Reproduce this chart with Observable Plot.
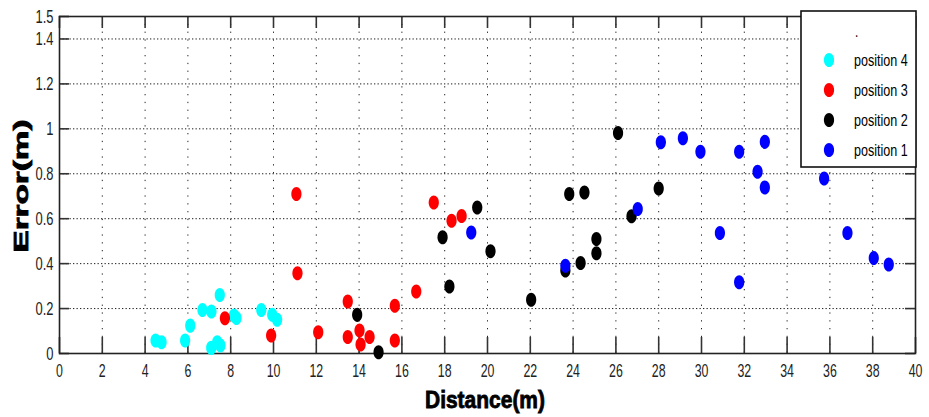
<!DOCTYPE html>
<html><head><meta charset="utf-8">
<script src="https://cdn.jsdelivr.net/npm/d3@7"></script>
<script src="https://cdn.jsdelivr.net/npm/@observablehq/plot@0.6"></script>
<style>
body{margin:0;background:#fff;}
#chart{width:929px;height:417px;}
</style></head><body><div id="chart"></div>
<script>
const series = ["position 4", "position 3", "position 2", "position 1"];
const colors = ["#00ffff", "#ff0000", "#000000", "#0000ff"];

const pos4X = [4.49, 4.77, 5.87, 6.11, 6.68, 7.10, 7.49, 7.09, 7.37, 7.52, 8.15, 8.27, 9.43, 9.94, 10.17];
const pos4Y = [0.058, 0.05, 0.058, 0.124, 0.194, 0.187, 0.26, 0.025, 0.05, 0.036, 0.169, 0.158, 0.194, 0.172, 0.15];

const pos3X = [7.73, 9.89, 11.07, 11.12, 12.09, 13.47, 13.47, 14.02, 14.07, 14.49, 15.67, 15.67, 16.67, 17.49, 18.32, 18.79];
const pos3Y = [0.157, 0.08, 0.71, 0.357, 0.095, 0.231, 0.073, 0.102, 0.04, 0.073, 0.213, 0.058, 0.276, 0.672, 0.591, 0.612];

const pos2X = [13.91, 14.91, 17.90, 18.22, 19.52, 20.14, 22.04, 23.64, 23.82, 24.35, 24.53, 25.09, 25.09, 26.10, 26.73, 28.00];
const pos2Y = [0.172, 0.006, 0.517, 0.298, 0.65, 0.455, 0.239, 0.369, 0.71, 0.403, 0.717, 0.51, 0.446, 0.981, 0.611, 0.734];

const pos1X = [19.24, 23.64, 27.02, 28.10, 29.13, 29.95, 30.86, 31.76, 31.76, 32.62, 32.96, 32.96, 35.73, 36.82, 38.05, 38.75];
const pos1Y = [0.539, 0.391, 0.643, 0.94, 0.958, 0.898, 0.536, 0.898, 0.317, 0.809, 0.942, 0.739, 0.779, 0.536, 0.425, 0.396];

const xTicks = [0, 2, 4, 6, 8, 10, 12, 14, 16, 18, 20, 22, 24, 26, 28, 30, 32, 34, 36, 38, 40];
const yTicks = [0, 0.2, 0.4, 0.6, 0.8, 1, 1.2, 1.4, 1.5];
const xGrid = xTicks.filter(d => d > 0 && d < 40);
const yGrid = [0.2, 0.4, 0.6, 0.8, 1, 1.2, 1.4];

const xLabel = "Distance(m)";
const yLabel = "Error(m)";
const legendTitle = ".";

const data = [];
[[pos4X, pos4Y], [pos3X, pos3Y], [pos2X, pos2Y], [pos1X, pos1Y]].forEach(([xs, ys], i) => {
  xs.forEach((x, j) => data.push({x, y: ys[j], s: series[i]}));
});

const ellipse = {
  draw(ctx, size) {
    const r = Math.sqrt(size / Math.PI);
    const rx = r * 0.85, ry = r * 1.17, k = 0.5523;
    ctx.moveTo(rx, 0);
    ctx.bezierCurveTo(rx, ry * k, rx * k, ry, 0, ry);
    ctx.bezierCurveTo(-rx * k, ry, -rx, ry * k, -rx, 0);
    ctx.bezierCurveTo(-rx, -ry * k, -rx * k, -ry, 0, -ry);
    ctx.bezierCurveTo(rx * k, -ry, rx, -ry * k, rx, 0);
    ctx.closePath();
  }
};

const W = 929, H = 417, mL = 59, mR = 14, mT = 16, mB = 64;
const fw = W - mL - mR, fh = H - mT - mB;
const font = "'Liberation Sans', Arial, sans-serif";

const plot = Plot.plot({
  width: W, height: H,
  marginLeft: mL, marginRight: mR, marginTop: mT, marginBottom: mB,
  style: {fontFamily: font, fontSize: "19px", color: "#222", background: "#fff"},
  x: {domain: [0, 40], ticks: xTicks, label: null},
  y: {domain: [0, 1.5], ticks: yTicks, label: null},
  color: {domain: series, range: colors},
  marks: [
    Plot.gridX(xGrid, {stroke: "#000", strokeOpacity: 0.85, strokeWidth: 1, strokeDasharray: "1.3,6.5"}),
    Plot.gridY(yGrid, {stroke: "#000", strokeOpacity: 0.9, strokeWidth: 1, strokeDasharray: "1.3,2.2"}),
    Plot.ruleX(xTicks, {x: d => d, insetTop: fh - 16, stroke: "#333", strokeWidth: 1.6}),
    Plot.ruleX(xTicks, {x: d => d, insetBottom: fh - 12, stroke: "#333", strokeWidth: 1.6}),
    Plot.ruleY(yTicks, {y: d => d, insetRight: fw - 10, stroke: "#333", strokeWidth: 1.6}),
    Plot.ruleY(yTicks, {y: d => d, insetLeft: fw - 10, stroke: "#333", strokeWidth: 1.6}),
    Plot.axisX(xTicks, {tickSize: 0, tickPadding: 10, label: null}),
    Plot.axisY(yTicks, {tickSize: 0, tickPadding: 6, label: null, tickFormat: d => String(+d.toFixed(1))}),
    Plot.frame({stroke: "#222", strokeWidth: 1.6}),
    Plot.dot(data, {x: "x", y: "y", fill: "s", symbol: ellipse, r: 6})
  ]
});
document.getElementById("chart").append(plot);

const svg = d3.select(plot);

// condense text to mimic the narrow font of the original
function condense(sel, f) {
  sel.each(function () {
    const n = this.getComputedTextLength();
    if (n > 0) {
      this.setAttribute("textLength", (n * f).toFixed(2));
      this.setAttribute("lengthAdjust", "spacingAndGlyphs");
    }
  });
}
condense(svg.selectAll('g[aria-label="x-axis tick label"] text'), 0.65);
condense(svg.selectAll('g[aria-label="y-axis tick label"] text'), 0.68);

// axis titles
svg.append("text")
  .attr("x", 485).attr("y", 408)
  .attr("text-anchor", "middle")
  .attr("font-family", font)
  .attr("font-weight", "bold").attr("font-size", 23)
  .attr("textLength", 120).attr("lengthAdjust", "spacingAndGlyphs")
  .attr("fill", "#000").attr("stroke", "#000").attr("stroke-width", 0.8)
  .text(xLabel);
svg.append("text")
  .attr("transform", "translate(28,186) rotate(-90)")
  .attr("text-anchor", "middle")
  .attr("font-family", font)
  .attr("font-weight", "bold").attr("font-size", 21)
  .attr("textLength", 133).attr("lengthAdjust", "spacingAndGlyphs")
  .attr("fill", "#000").attr("stroke", "#000").attr("stroke-width", 0.8)
  .text(yLabel);

// legend
const lg = svg.append("g").attr("text-anchor", "start");
lg.append("rect").attr("x", 801).attr("y", 11).attr("width", 115).attr("height", 156)
  .attr("fill", "#fff").attr("stroke", "#111").attr("stroke-width", 1.6);
lg.append("text").attr("x", 855).attr("y", 37).attr("font-family", font).attr("font-size", 16).attr("fill", "#000").text(legendTitle);
series.forEach((s, i) => {
  const cy = 60 + i * 30;
  lg.append("path").attr("transform", `translate(829,${cy})`)
    .attr("d", d3.symbol(ellipse, 36 * Math.PI)())
    .attr("fill", colors[i]);
  lg.append("text").attr("x", 854).attr("y", cy + 6)
    .attr("font-family", font).attr("font-size", 17).attr("fill", "#000").text(s);
});
condense(lg.selectAll("text"), 0.74);
</script>
</body></html>
